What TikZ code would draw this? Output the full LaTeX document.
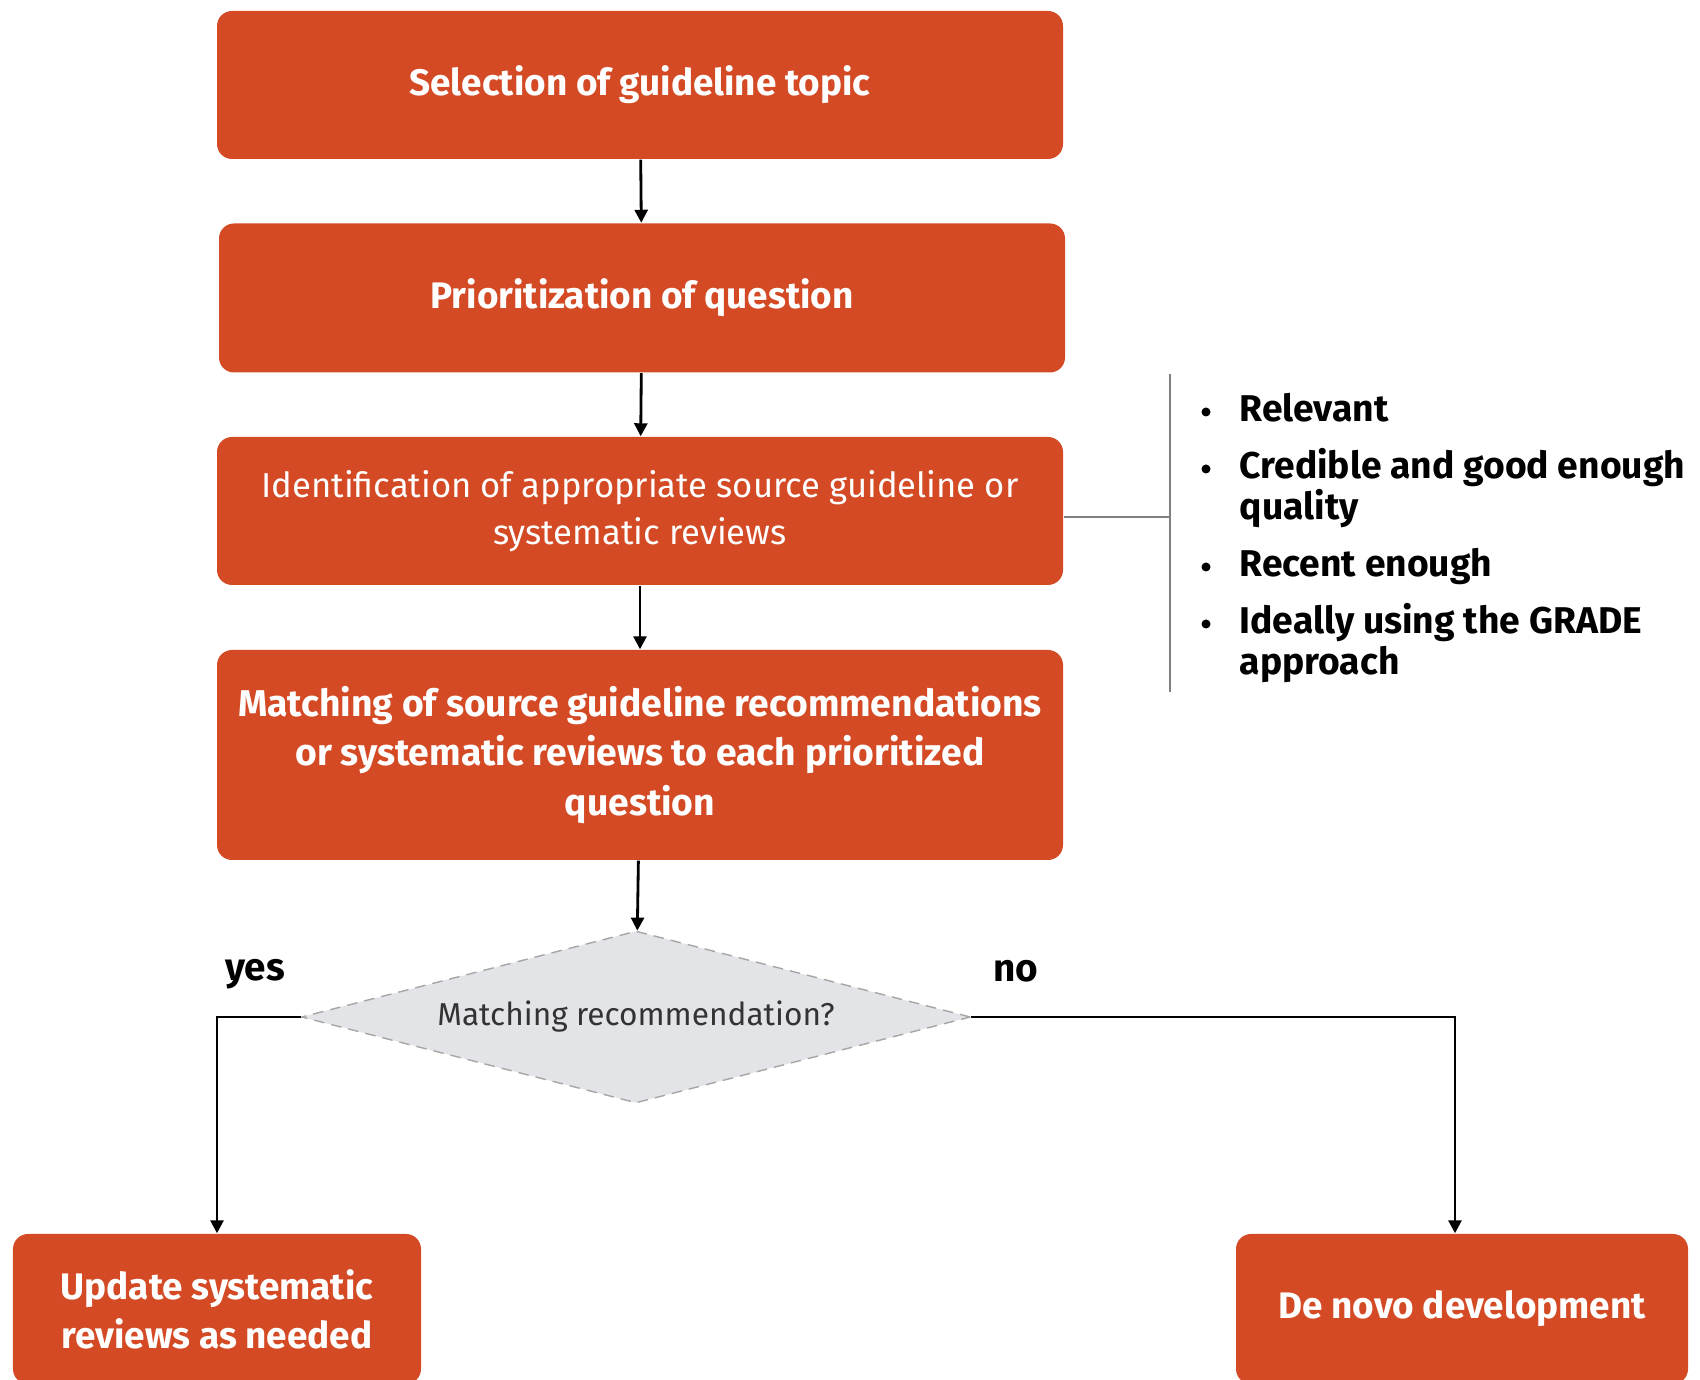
\documentclass[tikz,border=0pt]{standalone}
\usepackage{fontspec}
\setmainfont{Fira Sans}
\usetikzlibrary{shapes.geometric,arrows.meta}
\definecolor{boxorange}{HTML}{D34A24}
\definecolor{askgrey}{HTML}{E3E4E8}

\begin{document}
\begin{tikzpicture}[
  stepbox/.style={fill=boxorange, rounded corners=0.15cm, text=white, align=center,
    minimum width=8.46cm, inner sep=0, font=\bfseries\fontsize{10.5}{14}\selectfont},
  flow/.style={-{Triangle[length=1.3mm,width=1.3mm]}, line width=0.8pt},
  listitem/.style={anchor=base west, align=left, inner sep=0,
    font=\bfseries\fontsize{10.6}{11.7}\selectfont}
]
  \useasboundingbox (0,0) rectangle (17,13.8);

  %%%%% boxes %%%%%
  \node[stepbox, minimum height=1.48cm] (topic) at (6.40,12.95) {Selection of guideline topic};
  \node[stepbox, minimum height=1.49cm] (prio) at (6.42,10.82) {Prioritization of question};
  \node[stepbox, minimum height=1.48cm, font=\fontsize{9.85}{13.3}\selectfont] (ident) at (6.40,8.69)
    {Identification of appropriate source guideline or\\systematic reviews};
  \node[stepbox, minimum height=2.10cm, font=\bfseries\fontsize{10.6}{14.2}\selectfont] (match) at (6.40,6.25)
    {Matching of source guideline recommendations\\or systematic reviews to each prioritized\\question};

  \node[diamond, fill=askgrey, draw=gray!70, densely dashed, line width=0.4pt, inner sep=0,
    minimum width=6.69cm, minimum height=1.72cm, aspect=3.9, text=black!80,
    font=\fontsize{9}{11}\selectfont] (ask) at (6.36,3.63) {Matching recommendation?};

  \node[stepbox, minimum width=4.08cm, minimum height=1.50cm] (update) at (2.17,0.71)
    {Update systematic\\reviews as needed};
  \node[stepbox, minimum width=4.52cm, minimum height=1.50cm] (novo) at (14.62,0.71)
    {De novo development};

  %%%%% arrows %%%%%
  \draw[flow] (topic) -- (prio);
  \draw[flow] (prio) -- (ident);
  \draw[flow] (ident) -- (match);
  \draw[flow] (match) -- (ask);
  \draw[flow] (ask.west) -| (update.north);
  \draw[flow] (ask.east) -| ([xshift=-0.07cm]novo.north);

  \node[font=\bfseries\fontsize{11}{12}\selectfont] (yes) at (2.55,4.06) {yes};
  \node[font=\bfseries\fontsize{11}{12}\selectfont] (no) at (10.16,4.09) {no};

  %%%%% criteria %%%%%
  \coordinate (brtop) at (11.70,10.06);
  \coordinate (brmid) at (11.70,8.63);
  \coordinate (brbot) at (11.70,6.88);
  \draw[gray, line width=0.4pt] (brtop) -- (brbot);
  \draw[gray, line width=0.4pt] (ident.east |- brmid) -- (brmid);

  \foreach \name/\ypos/\bpos/\txt in {rel/9.58/9.68/Relevant,
      cred/8.60/9.11/{Credible and good enough\\quality},
      rec/8.03/8.13/Recent enough,
      grade/7.05/7.56/{Ideally using the GRADE\\approach}}{
    \node[listitem] (\name) at (12.39,\ypos) {\txt};
    \fill (12.06,\bpos) circle (0.045);
  }
\end{tikzpicture}
\end{document}
